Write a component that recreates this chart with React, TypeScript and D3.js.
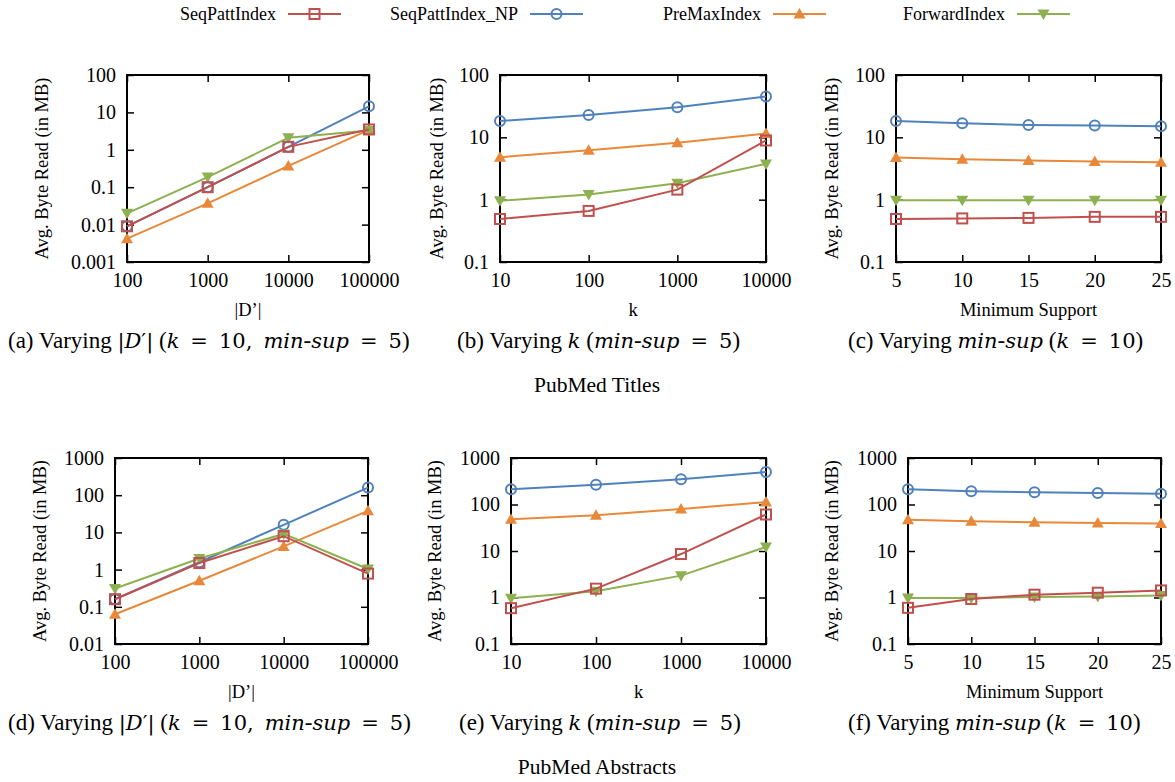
import React, { useRef, useEffect } from 'react';
import * as d3 from 'd3';

// x values
const dSizes = [100, 1000, 10000, 100000];
const kValues = [10, 100, 1000, 10000];
const minSups = [5, 10, 15, 20, 25];

// y tick values
const yTicksTitlesD = [0.001, 0.01, 0.1, 1, 10, 100];
const yTicksTitles = [0.1, 1, 10, 100];
const yTicksAbsD = [0.01, 0.1, 1, 10, 100, 1000];
const yTicksAbs = [0.1, 1, 10, 100, 1000];

const seriesNames = ['SeqPattIndex', 'SeqPattIndex_NP', 'PreMaxIndex', 'ForwardIndex'];

// (a) PubMed Titles, varying |D'|
const aSeqPatt = [0.009, 0.1, 1.2, 3.5];
const aSeqPattNP = [0.009, 0.1, 1.2, 14.5];
const aPreMax = [0.0042, 0.037, 0.37, 3.4];
const aForward = [0.02, 0.186, 2.1, 3.3];

// (b) PubMed Titles, varying k
const bSeqPatt = [0.49, 0.66, 1.45, 8.9];
const bSeqPattNP = [18.3, 22.9, 30.3, 45];
const bPreMax = [4.8, 6.2, 8.2, 11.5];
const bForward = [0.96, 1.21, 1.84, 3.75];

// (c) PubMed Titles, varying min-sup
const cSeqPatt = [0.49, 0.5, 0.51, 0.53, 0.53];
const cSeqPattNP = [18.3, 16.8, 15.8, 15.5, 15.1];
const cPreMax = [4.75, 4.47, 4.26, 4.1, 4.0];
const cForward = [0.98, 0.98, 0.98, 0.98, 0.98];

// (d) PubMed Abstracts, varying |D'|
const dSeqPatt = [0.16, 1.5, 7.9, 0.78];
const dSeqPattNP = [0.16, 1.58, 16, 160];
const dPreMax = [0.063, 0.5, 4.2, 38];
const dForward = [0.31, 1.98, 9.1, 1.04];

// (e) PubMed Abstracts, varying k
const eSeqPatt = [0.59, 1.55, 8.6, 61];
const eSeqPattNP = [212, 267, 350, 500];
const ePreMax = [48, 59, 80, 113];
const eForward = [0.96, 1.36, 2.95, 12.2];

// (f) PubMed Abstracts, varying min-sup
const fSeqPatt = [0.6, 0.93, 1.15, 1.27, 1.42];
const fSeqPattNP = [212, 192, 183, 177, 171];
const fPreMax = [47, 43.5, 41.4, 40, 38.8];
const fForward = [0.97, 0.97, 1.03, 1.05, 1.1];

const colors = ['#c0504d', '#4f81bd', '#e8883a', '#8db050'];
const FONT = '"Liberation Serif", "Times New Roman", serif';
const MATH = '"DejaVu Serif", serif';

const panels = [
  { x: dSizes, xLog: true, yTicks: yTicksTitlesD, series: [aSeqPatt, aSeqPattNP, aPreMax, aForward],
    left: 127, right: 369, top: 75, bottom: 262, ylabX: 42, xlabel: '|D’|', cap: 'a', capX: 8, capW: 400, kind: 'D' },
  { x: kValues, xLog: true, yTicks: yTicksTitles, series: [bSeqPatt, bSeqPattNP, bPreMax, bForward],
    left: 500, right: 766, top: 75, bottom: 262, ylabX: 437, xlabel: 'k', cap: 'b', capX: 457, capW: 288, kind: 'k' },
  { x: minSups, xLog: false, yTicks: yTicksTitles, series: [cSeqPatt, cSeqPattNP, cPreMax, cForward],
    left: 896, right: 1161, top: 75, bottom: 262, ylabX: 832, xlabel: 'Minimum Support', cap: 'c', capX: 848, capW: 298, kind: 's' },
  { x: dSizes, xLog: true, yTicks: yTicksAbsD, series: [dSeqPatt, dSeqPattNP, dPreMax, dForward],
    left: 115, right: 368, top: 458, bottom: 644, ylabX: 40, xlabel: '|D’|', cap: 'd', capX: 8, capW: 395, kind: 'D' },
  { x: kValues, xLog: true, yTicks: yTicksAbs, series: [eSeqPatt, eSeqPattNP, ePreMax, eForward],
    left: 511, right: 766, top: 458, bottom: 644, ylabX: 435, xlabel: 'k', cap: 'e', capX: 459, capW: 284, kind: 'k' },
  { x: minSups, xLog: false, yTicks: yTicksAbs, series: [fSeqPatt, fSeqPattNP, fPreMax, fForward],
    left: 908, right: 1161, top: 458, bottom: 644, ylabX: 832, xlabel: 'Minimum Support', cap: 'f', capX: 848, capW: 295, kind: 's' },
];

// caption pieces: [text, style (0 text, 1 math italic, 2 math upright), gap before]
const capPieces = (letter, kind) => {
  if (kind === 'D') {
    return [[`(${letter}) Varying `, 0, 0], ['|', 2, 0], ['D', 1, 0], ['′|', 2, 0], [' (', 0, 0], ['k', 1, 0],
      ['=', 2, 1], ['10,', 2, 1], ['min', 1, 1], ['-', 0, 0], ['sup', 1, 0], ['=', 2, 1], ['5', 2, 1], [')', 0, 0]];
  }
  if (kind === 'k') {
    return [[`(${letter}) Varying `, 0, 0], ['k', 1, 0], [' (', 0, 0], ['min', 1, 0], ['-', 0, 0], ['sup', 1, 0],
      ['=', 2, 1], ['5', 2, 1], [')', 0, 0]];
  }
  return [[`(${letter}) Varying `, 0, 0], ['min', 1, 0], ['-', 0, 0], ['sup', 1, 0], [' (', 0, 0], ['k', 1, 0],
    ['=', 2, 1], ['10', 2, 1], [')', 0, 0]];
};

const drawMarker = (g, i, x, y) => {
  const c = colors[i];
  if (i === 0) {
    g.append('rect').attr('x', x - 5).attr('y', y - 5).attr('width', 10).attr('height', 10)
      .attr('fill', 'none').attr('stroke', c).attr('stroke-width', 2);
  } else if (i === 1) {
    g.append('circle').attr('cx', x).attr('cy', y).attr('r', 5)
      .attr('fill', 'none').attr('stroke', c).attr('stroke-width', 2);
  } else if (i === 2) {
    g.append('path').attr('d', `M${x},${y - 6}L${x + 6},${y + 4.5}L${x - 6},${y + 4.5}Z`).attr('fill', c);
  } else {
    g.append('path').attr('d', `M${x},${y + 6}L${x + 6},${y - 4.5}L${x - 6},${y - 4.5}Z`).attr('fill', c);
  }
};

const App = () => {
  const svgRef = useRef(null);

  useEffect(() => {
    const svg = d3.select(svgRef.current);
    svg.selectAll('*').remove();

    // legend
    const legendX = [180, 390, 663, 903];
    const legend = svg.append('g').attr('font-family', FONT).attr('font-size', 18);
    seriesNames.forEach((name, i) => {
      const t = legend.append('text').attr('x', legendX[i]).attr('y', 20).text(name);
      const w = (t.node() as SVGTextElement).getComputedTextLength();
      const x0 = legendX[i] + w + 12;
      legend.append('line').attr('x1', x0).attr('x2', x0 + 53).attr('y1', 14).attr('y2', 14)
        .attr('stroke', colors[i]).attr('stroke-width', 2);
      drawMarker(legend, i, x0 + 26.5, 14);
    });

    panels.forEach((p) => {
      const g = svg.append('g').attr('font-family', FONT);
      const xs = p.xLog
        ? d3.scaleLog().domain([p.x[0], p.x[p.x.length - 1]]).range([p.left, p.right])
        : d3.scaleLinear().domain([p.x[0], p.x[p.x.length - 1]]).range([p.left, p.right]);
      const ys = d3.scaleLog().domain([p.yTicks[0], p.yTicks[p.yTicks.length - 1]]).range([p.bottom, p.top]);

      // axes with inward ticks
      const styleAxis = (sel) => {
        sel.select('.domain').remove();
        sel.selectAll('line').attr('stroke', '#000').attr('stroke-width', 1.5);
        sel.selectAll('text').attr('font-family', FONT).attr('font-size', 20).attr('fill', '#000');
      };
      g.append('g').attr('transform', `translate(${p.left},0)`)
        .call(d3.axisLeft(ys).tickValues(p.yTicks).tickFormat((d) => String(d)).tickSizeInner(-7).tickSizeOuter(0).tickPadding(11))
        .call(styleAxis);
      g.append('g').attr('transform', `translate(${p.right},0)`)
        .call(d3.axisRight(ys).tickValues(p.yTicks).tickFormat(() => '').tickSizeInner(-7).tickSizeOuter(0))
        .call(styleAxis);
      g.append('g').attr('transform', `translate(0,${p.bottom})`)
        .call(d3.axisBottom(xs).tickValues(p.x).tickFormat((d) => String(d)).tickSizeInner(-7).tickSizeOuter(0).tickPadding(11))
        .call(styleAxis);
      g.append('g').attr('transform', `translate(0,${p.top})`)
        .call(d3.axisTop(xs).tickValues(p.x).tickFormat(() => '').tickSizeInner(-7).tickSizeOuter(0))
        .call(styleAxis);

      // frame
      g.append('rect').attr('x', p.left).attr('y', p.top).attr('width', p.right - p.left).attr('height', p.bottom - p.top)
        .attr('fill', 'none').attr('stroke', '#000').attr('stroke-width', 2);

      // series: draw blue, orange, green, then red on top
      [1, 2, 3, 0].forEach((i) => {
        const vals = p.series[i];
        const line = d3.line<number>().x((_, j) => xs(p.x[j])).y((v) => ys(v));
        g.append('path').attr('d', line(vals)).attr('fill', 'none').attr('stroke', colors[i]).attr('stroke-width', 2);
        vals.forEach((v, j) => drawMarker(g, i, xs(p.x[j]), ys(v)));
      });

      // y label
      const cy = (p.top + p.bottom) / 2;
      g.append('text').attr('transform', `translate(${p.ylabX},${cy}) rotate(-90)`).attr('text-anchor', 'middle')
        .attr('dy', '0.35em').attr('font-size', 18.5).text('Avg. Byte Read (in MB)');

      // x label
      g.append('text').attr('x', (p.left + p.right) / 2).attr('y', p.bottom + 54).attr('text-anchor', 'middle')
        .attr('font-size', 18.5).text(p.xlabel);

      // caption; math parts in a wider font, spaces stretched to the reference width
      const cap = g.append('text').attr('x', p.capX).attr('y', p.bottom + 86).attr('font-size', 23);
      const pieces = capPieces(p.cap, p.kind);
      const gaps = [];
      pieces.forEach(([s, style, gap]) => {
        const t = cap.append('tspan').text(s as string);
        if (style === 1) t.attr('font-family', MATH).attr('font-style', 'italic').attr('font-size', 21);
        if (style === 2) t.attr('font-family', MATH).attr('font-size', 21);
        if (gap) { t.attr('dx', 5); gaps.push(t); }
      });
      const nat = (cap.node() as SVGTextElement).getComputedTextLength();
      const extra = Math.max(-4, Math.min(6, (p.capW - nat) / gaps.length));
      gaps.forEach((t) => t.attr('dx', 5 + extra));
    });

    svg.append('text').attr('x', 597).attr('y', 392).attr('text-anchor', 'middle')
      .attr('font-family', FONT).attr('font-size', 21.5).text('PubMed Titles');
    svg.append('text').attr('x', 597).attr('y', 774).attr('text-anchor', 'middle')
      .attr('font-family', FONT).attr('font-size', 21.5).text('PubMed Abstracts');
  }, []);

  return (
    <svg ref={svgRef} width={1175} height={782}
      style={{ position: 'absolute', left: 0, top: 0, background: '#fff' }} />
  );
};

export default App;
